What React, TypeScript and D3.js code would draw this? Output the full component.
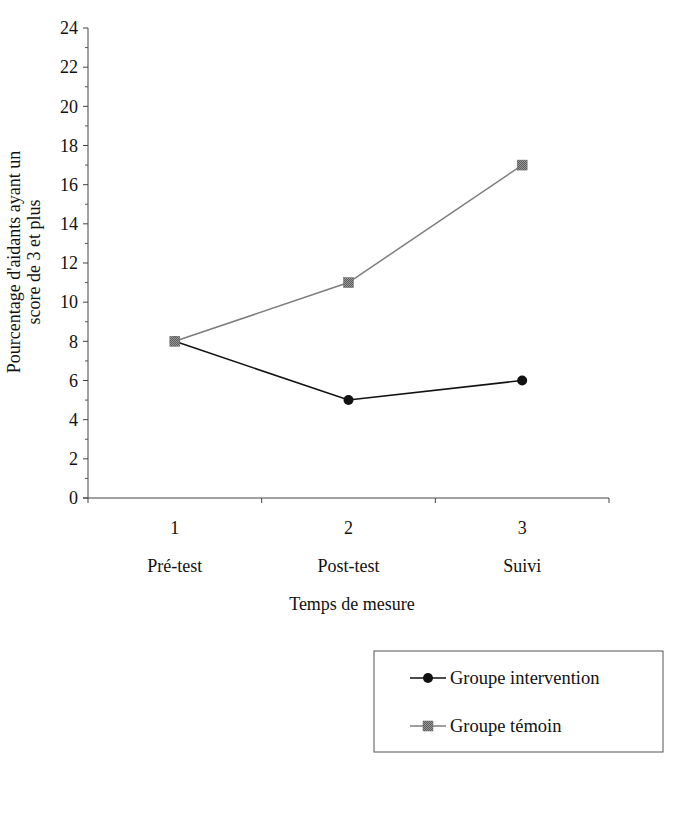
import React from "react";
import * as d3 from "d3";

const categories = ["1", "2", "3"];
const phaseLabels = ["Pré-test", "Post-test", "Suivi"];
const interventionValues = [8, 5, 6];
const temoinValues = [8, 11, 17];
const yTicks = d3.range(0, 25, 2);
const yMinorTicks = d3.range(1, 24, 2);
const seriesNames = ["Groupe intervention", "Groupe témoin"];

export default function App() {
  const W = 688, H = 828;
  const left = 88, right = 609, top = 28, bottom = 498;
  const x = d3.scaleBand<string>().domain(categories).range([left, right]);
  const y = d3.scaleLinear().domain([0, 24]).range([bottom, top]);
  const cx = (c: string) => (x(c) as number) + x.bandwidth() / 2;
  const line = d3.line<number>().x((_, i) => cx(categories[i])).y((d) => y(d));
  const font = "'Liberation Serif', 'Times New Roman', serif";
  const boundaries = [...categories.map((c) => x(c) as number), right];
  const gray = "#7d7d7d";
  const sq = 10;
  const fs = 18;

  return (
    <svg width={W} height={H} style={{ position: "absolute", left: 0, top: 0, background: "#fff" }} fontFamily={font}>
      <defs>
        <pattern id="chk" width="2" height="2" patternUnits="userSpaceOnUse">
          <rect width="2" height="2" fill="#9a9a9a" />
          <rect width="1" height="1" fill="#5a5a5a" />
          <rect x="1" y="1" width="1" height="1" fill="#5a5a5a" />
        </pattern>
      </defs>
      {/* y axis */}
      <line x1={left} x2={left} y1={top} y2={bottom} stroke="#444" strokeWidth={1} />
      {yTicks.map((t) => (
        <g key={"y" + t}>
          <line x1={left - 5} x2={left} y1={y(t)} y2={y(t)} stroke="#444" />
          <text x={left - 10} y={y(t)} dy="0.35em" textAnchor="end" fontSize={fs} fill="#111">{t}</text>
        </g>
      ))}
      {yMinorTicks.map((t) => (
        <line key={"m" + t} x1={left - 3} x2={left} y1={y(t)} y2={y(t)} stroke="#555" />
      ))}
      {/* x axis */}
      <line x1={left - 5} x2={right} y1={bottom} y2={bottom} stroke="#444" />
      {boundaries.map((b, i) => (
        <line key={"b" + i} x1={b} x2={b} y1={bottom} y2={bottom + 5} stroke="#444" />
      ))}
      {categories.map((c, i) => (
        <g key={"c" + c}>
          <text x={cx(c)} y={528} dy="0.35em" textAnchor="middle" fontSize={fs} fill="#111">{c}</text>
          <text x={cx(c)} y={566} dy="0.35em" textAnchor="middle" fontSize={fs} fill="#111">{phaseLabels[i]}</text>
        </g>
      ))}
      <text x={352} y={604} dy="0.35em" textAnchor="middle" fontSize={fs} fill="#111">Temps de mesure</text>
      <g transform={`translate(14, 262) rotate(-90)`}>
        <text x={0} y={0} dy="0.35em" textAnchor="middle" fontSize={fs} fill="#111">Pourcentage d'aidants ayant un</text>
        <text x={0} y={20} dy="0.35em" textAnchor="middle" fontSize={fs} fill="#111">score de 3 et plus</text>
      </g>
      {/* series */}
      <path d={line(interventionValues) as string} fill="none" stroke="#111" strokeWidth={1.5} />
      {interventionValues.map((v, i) => (
        <circle key={"i" + i} cx={cx(categories[i])} cy={y(v)} r={5} fill="#111" />
      ))}
      <path d={line(temoinValues) as string} fill="none" stroke={gray} strokeWidth={1.5} />
      {temoinValues.map((v, i) => (
        <rect key={"t" + i} x={cx(categories[i]) - sq / 2} y={y(v) - sq / 2} width={sq} height={sq} fill="url(#chk)" stroke="#6a6a6a" strokeWidth={0.5} />
      ))}
      {/* legend */}
      <rect x={374} y={651} width={289} height={101} fill="none" stroke="#555" strokeWidth={1} />
      <line x1={410} x2={446} y1={678} y2={678} stroke="#111" strokeWidth={1.5} />
      <circle cx={428} cy={678} r={5} fill="#111" />
      <text x={450} y={678} dy="0.35em" fontSize={18.5} fill="#111">{seriesNames[0]}</text>
      <line x1={410} x2={446} y1={726} y2={726} stroke={gray} strokeWidth={1.5} />
      <rect x={428 - sq / 2} y={726 - sq / 2} width={sq} height={sq} fill="url(#chk)" stroke="#6a6a6a" strokeWidth={0.5} />
      <text x={450} y={726} dy="0.35em" fontSize={18.5} fill="#111">{seriesNames[1]}</text>
    </svg>
  );
}
